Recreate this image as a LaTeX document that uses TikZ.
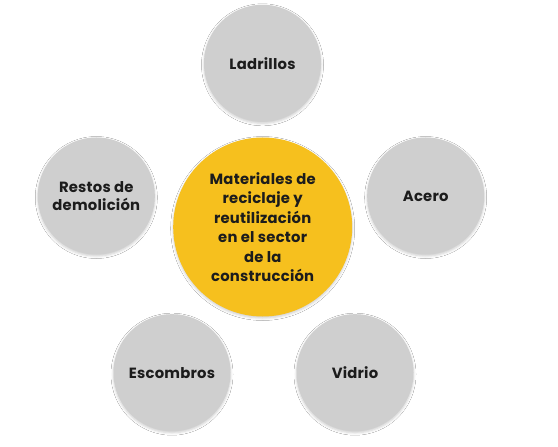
\documentclass[tikz,border=0pt]{standalone}
\usepackage{fontspec}
\setmainfont{Poppins}[LetterSpace=1.5]
\usetikzlibrary{shadows.blur}
\definecolor{cgray}{RGB}{207,207,207}
\definecolor{cyellow}{RGB}{246,192,30}
\definecolor{ctext}{RGB}{28,28,28}
\tikzset{
  base/.style={circle, inner sep=0pt, align=center, text=ctext,
    font=\fontsize{14.8bp}{19.5bp}\selectfont\bfseries,
    blur shadow={shadow xshift=0bp, shadow yshift=-1.5bp, shadow blur radius=2.5bp, shadow opacity=20}},
  leaf/.style={base, fill=cgray, minimum size=117bp},
  hub/.style={base, fill=cyellow, minimum size=179bp},
}
\begin{document}
\begin{tikzpicture}[x=1bp, y=-1bp]
\useasboundingbox (0,0) rectangle (558,447);
\fill[white] (0,0) rectangle (558,447);
\node[hub] (hub) at (262.7,227) {Materiales de\\reciclaje y\\reutilización\\en el sector\\de la\\construcción};
\node[leaf] (ladrillos) at (262.5,63.3) {Ladrillos};
\node[leaf] (acero) at (425.7,196) {Acero};
\node[leaf, font=\fontsize{14.8bp}{18.4bp}\selectfont\bfseries] (restos) at (96.3,196) {Restos de\\demolición};
\node[leaf] (escombros) at (172,372.7) {Escombros};
\node[leaf] (vidrio) at (355,372.7) {Vidrio};
\end{tikzpicture}
\end{document}
